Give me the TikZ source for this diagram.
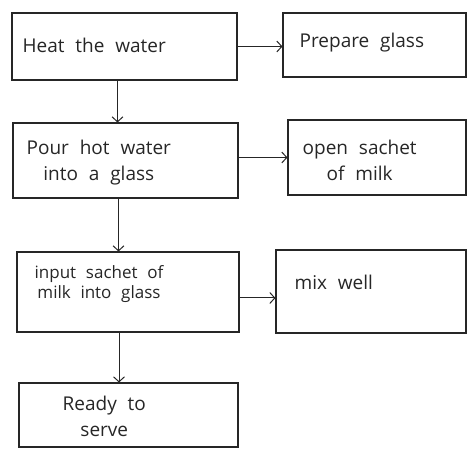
\documentclass[tikz,border=0pt]{standalone}
\usepackage{fontspec}
\setmainfont{Open Sans}[WordSpace=2.2]
\usetikzlibrary{positioning,arrows.meta}

\tikzset{
  stepbox/.style={draw=black!85, line width=1.1pt, rectangle, inner sep=0pt},
  steptext/.style={font=\fontsize{19}{26}\selectfont, align=center, inner sep=0pt, text=black!85},
  smalltext/.style={steptext, font=\fontsize{17}{20}\selectfont},
  flow/.style={draw=black!85, line width=1pt, -{Straight Barb[length=5pt,width=11pt]}}
}

\begin{document}
\begin{tikzpicture}[x=1pt,y=-1pt]
  \useasboundingbox (0,0) rectangle (469,449);

  % Define nodes
  \node[stepbox, minimum width=225, minimum height=67] (heat)  at (124.5,46.5) {};
  \node[stepbox, minimum width=183, minimum height=64] (prep)  at (374.5,45) {};
  \node[stepbox, minimum width=225, minimum height=75] (pour)  at (125.5,160.5) {};
  \node[stepbox, minimum width=178, minimum height=75] (open)  at (377,157.5) {};
  \node[stepbox, minimum width=222, minimum height=80] (input) at (128,292) {};
  \node[stepbox, minimum width=190, minimum height=83] (mix)   at (371,291.5) {};
  \node[stepbox, minimum width=219, minimum height=64] (ready) at (128.5,415) {};

  % Texts in the boxes
  \node[steptext, right=11pt of heat.west, yshift=1pt]  (heattext)  {Heat the water};
  \node[steptext, right=17pt of prep.west, yshift=2pt]  (preptext)  {Prepare glass};
  \node[steptext, right=14pt of pour.west, yshift=-2pt] (pourtext)  {Pour hot water\\into a glass};
  \node[steptext, right=15pt of open.west, yshift=-3pt] (opentext)  {open sachet\\of milk};
  \node[smalltext, right=18pt of input.west, yshift=8pt] (inputtext) {input sachet of\\milk into glass};
  \node[steptext, right=19pt of mix.west, yshift=9pt]   (mixtext)   {mix well};
  \node[steptext, right=44pt of ready.west, yshift=-1pt] (readytext) {Ready to\\serve};

  % Connect the nodes
  \draw[flow] (heat.east) -- (heat.east -| prep.west);
  \draw[flow] ([xshift=-7pt]heat.south) -- ([xshift=-7pt]heat.south |- pour.north);
  \draw[flow] ([yshift=3pt]pour.east) -- ([yshift=3pt]pour.east -| open.west);
  \draw[flow] ([xshift=-7pt]pour.south) -- ([xshift=-7pt]pour.south |- input.north);
  \draw[flow] ([yshift=-6pt]input.east) -- ([yshift=-6pt]input.east -| mix.west);
  \draw[flow] ([xshift=-9pt]input.south) -- ([xshift=-9pt]input.south |- ready.north);
\end{tikzpicture}
\end{document}
